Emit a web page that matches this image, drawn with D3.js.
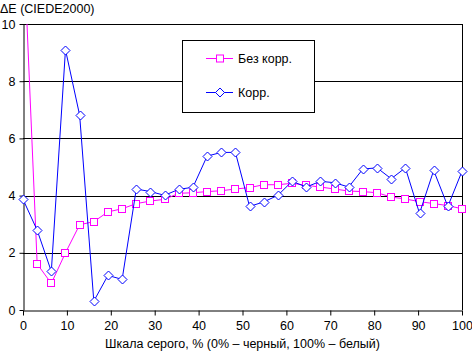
<!DOCTYPE html>
<html>
<head>
<meta charset="utf-8">
<script src="https://cdn.jsdelivr.net/npm/d3@7"></script>
<style>
  body { margin: 0; background: #fff; }
  text { font-family: "Liberation Sans", Arial, sans-serif; font-size: 12.5px; fill: #000; }
</style>
</head>
<body>
<div id="chart"></div>
<script>
// grey levels, 32 steps from 0 to 100 %
let levels = d3.range(32).map(function(i) { return i * 100 / 31; });

let seriesNames = ["Без корр.", "Корр."];

let withoutCorr = [13.3, 1.61, 0.93, 2.0, 2.98, 3.09, 3.43, 3.54, 3.72, 3.81, 3.87,
    4.08, 4.10, 4.14, 4.17, 4.23, 4.28, 4.38, 4.38, 4.43, 4.36, 4.30, 4.23, 4.16,
    4.14, 4.10, 3.95, 3.88, 3.79, 3.72, 3.65, 3.54];

let withCorr = [3.87, 2.79, 1.35, 9.10, 6.81, 0.31, 1.21, 1.07, 4.23, 4.14, 4.01,
    4.22, 4.29, 5.38, 5.51, 5.51, 3.62, 3.78, 4.01, 4.50, 4.30, 4.50, 4.45, 4.30,
    4.93, 4.97, 4.59, 4.97, 3.38, 4.88, 3.62, 4.85];

let xTicks = [0, 10, 20, 30, 40, 50, 60, 70, 80, 90, 100];
let yTicks = [0, 2, 4, 6, 8, 10];

let width = 472,
    height = 353;
let margin = { top: 24, right: 10, bottom: 43, left: 23 };

let svg = d3.select("#chart")
    .append("svg")
    .attr("width", width)
    .attr("height", height);

let x = d3.scaleLinear()
    .domain([0, 100])
    .range([margin.left, width - margin.right]);

let y = d3.scaleLinear()
    .domain([0, 10])
    .range([height - margin.bottom, margin.top]);

// horizontal grid lines
svg.append("g")
    .selectAll("line")
    .data(yTicks.slice(1))
    .enter()
    .append("line")
    .attr("x1", x(0))
    .attr("x2", x(100))
    .attr("y1", function(d) { return y(d) + 0.5; })
    .attr("y2", function(d) { return y(d) + 0.5; })
    .attr("stroke", "#000")
    .attr("shape-rendering", "crispEdges");

// right border
svg.append("line")
    .attr("x1", x(100) + 0.5).attr("x2", x(100) + 0.5)
    .attr("y1", y(10)).attr("y2", y(0))
    .attr("stroke", "#000")
    .attr("shape-rendering", "crispEdges");

// axes
svg.append("g")
    .attr("transform", `translate(0, ${y(0) + 0.5})`)
    .call(d3.axisBottom(x).tickValues(xTicks).tickSize(5).tickPadding(6).tickSizeOuter(0))
    .call(function(g) {
        g.select(".domain").attr("stroke", "#000");
        g.selectAll("line").attr("stroke", "#000");
        g.selectAll("text").attr("font-size", "12.5px").attr("font-family", null);
    });

svg.append("g")
    .attr("transform", `translate(${x(0) + 0.5}, 0)`)
    .call(d3.axisLeft(y).tickValues(yTicks).tickSize(4).tickPadding(4).tickSizeOuter(0))
    .call(function(g) {
        g.select(".domain").attr("stroke", "#000");
        g.selectAll("line").attr("stroke", "#000");
        g.selectAll("text").attr("font-size", "12.5px").attr("font-family", null);
    });

svg.selectAll(".tick text").attr("shape-rendering", null);

// clip to the plot area (top and bottom)
svg.append("clipPath")
    .attr("id", "plotClip")
    .append("rect")
    .attr("x", 0)
    .attr("y", y(10))
    .attr("width", width)
    .attr("height", y(0) - y(10));

let plot = svg.append("g").attr("clip-path", "url(#plotClip)");

let line = d3.line()
    .x(function(d, i) { return x(levels[i]); })
    .y(function(d) { return y(d); });

// series 1: squares
plot.append("path")
    .datum(withoutCorr)
    .attr("fill", "none")
    .attr("stroke", "#ff00ff")
    .attr("stroke-width", 1)
    .attr("d", line);

plot.append("g")
    .selectAll("rect")
    .data(withoutCorr)
    .enter()
    .append("rect")
    .attr("x", function(d, i) { return Math.round(x(levels[i])) - 3.5; })
    .attr("y", function(d) { return Math.round(y(d)) - 3.5; })
    .attr("width", 7)
    .attr("height", 7)
    .attr("fill", "#fff")
    .attr("stroke", "#ff00ff")
    .attr("stroke-width", 1);

// series 2: diamonds
plot.append("path")
    .datum(withCorr)
    .attr("fill", "none")
    .attr("stroke", "#0000ff")
    .attr("stroke-width", 1)
    .attr("d", line);

plot.append("g")
    .selectAll("path")
    .data(withCorr)
    .enter()
    .append("path")
    .attr("transform", function(d, i) { return `translate(${Math.round(x(levels[i])) + 0.5}, ${Math.round(y(d)) + 0.5})`; })
    .attr("d", "M0,-4.5L4.5,0L0,4.5L-4.5,0Z")
    .attr("fill", "#fff")
    .attr("stroke", "#0000ff")
    .attr("stroke-width", 1);

// legend
let legend = svg.append("g");
legend.append("rect")
    .attr("x", 182.5).attr("y", 40.5)
    .attr("width", 132).attr("height", 72)
    .attr("fill", "#fff")
    .attr("stroke", "#000");

let legendColors = ["#ff00ff", "#0000ff"];
let legendY = [58.5, 92.5];

seriesNames.forEach(function(name, i) {
    legend.append("line")
        .attr("x1", 206).attr("x2", 233)
        .attr("y1", legendY[i]).attr("y2", legendY[i])
        .attr("stroke", legendColors[i]);
    if (i === 0) {
        legend.append("rect")
            .attr("x", 216.5).attr("y", legendY[i] - 3.5)
            .attr("width", 7).attr("height", 7)
            .attr("fill", "#fff").attr("stroke", legendColors[i]);
    } else {
        legend.append("path")
            .attr("transform", `translate(220, ${legendY[i]})`)
            .attr("d", "M0,-4.5L4.5,0L0,4.5L-4.5,0Z")
            .attr("fill", "#fff").attr("stroke", legendColors[i]);
    }
    legend.append("text")
        .attr("x", 238)
        .attr("y", legendY[i] + 4.5)
        .text(name);
});

// axis titles
svg.append("text")
    .attr("x", 0)
    .attr("y", 13)
    .text("ΔE (CIEDE2000)");

svg.append("text")
    .attr("x", (x(0) + x(100)) / 2)
    .attr("y", 348)
    .style("text-anchor", "middle")
    .text("Шкала серого, % (0% – черный, 100% – белый)");
</script>
</body>
</html>
